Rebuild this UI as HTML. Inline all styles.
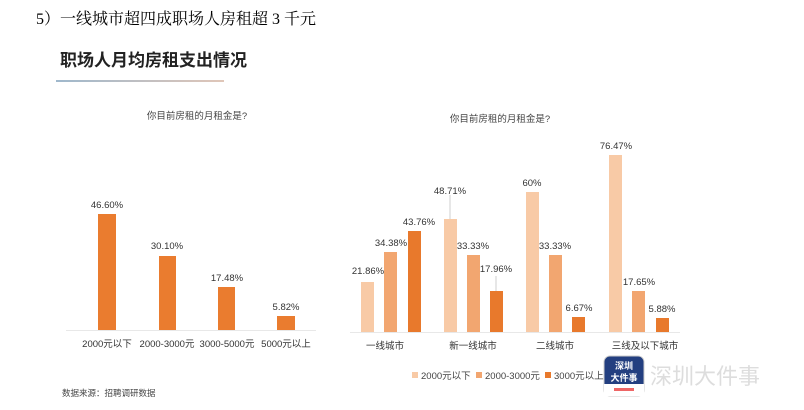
<!DOCTYPE html>
<html><head><meta charset="utf-8"><style>
body{margin:0;background:#fff;width:804px;height:410px;overflow:hidden}
svg{display:block}
text{font-family:"Liberation Sans","Noto Sans CJK SC",sans-serif}
</style></head><body>
<svg width="804" height="410" viewBox="0 0 804 410">
<defs><linearGradient id="g" x1="0" x2="1"><stop offset="0" stop-color="#9fb8cc"/><stop offset="1" stop-color="#e0c6b8"/></linearGradient></defs>
<text x="36" y="24" font-size="16" style="font-family:'Liberation Serif','Noto Serif CJK SC',serif" fill="#000">5）一线城市超四成职场人房租超 3 千元</text>
<text x="60" y="66" font-size="17" font-weight="bold" fill="#222">职场人月均房租支出情况</text>
<rect x="56" y="80" width="168" height="2" fill="url(#g)"/>
<text x="197" y="119" font-size="9.5" fill="#444" text-anchor="middle">你目前房租的月租金是?</text>
<text x="500" y="122" font-size="9.5" fill="#444" text-anchor="middle">你目前房租的月租金是?</text>
<line x1="66" y1="330.5" x2="316" y2="330.5" stroke="#e8e8e8"/>
<g fill="#ea7c2f">
<rect x="98" y="214" width="18" height="116"/>
<rect x="159" y="256" width="17" height="74"/>
<rect x="218" y="287" width="17" height="43"/>
<rect x="277" y="316" width="18" height="14"/>
</g>
<g font-size="9.5" fill="#333" text-anchor="middle">
<text x="107" y="208">46.60%</text><text x="167" y="249">30.10%</text><text x="227" y="281">17.48%</text><text x="286" y="310">5.82%</text>
<text x="107" y="347">2000元以下</text><text x="167" y="347">2000-3000元</text><text x="227" y="347">3000-5000元</text><text x="286" y="347">5000元以上</text>
</g>
<line x1="350" y1="332.5" x2="680" y2="332.5" stroke="#e8e8e8"/>
<g fill="#f8caa6">
<rect x="361" y="282" width="13" height="50"/><rect x="444" y="219" width="13" height="113"/><rect x="526" y="192" width="13" height="140"/><rect x="609" y="155" width="13" height="177"/>
</g>
<g fill="#f2a670">
<rect x="384" y="252" width="13" height="80"/><rect x="467" y="255" width="13" height="77"/><rect x="549" y="255" width="13" height="77"/><rect x="632" y="291" width="13" height="41"/>
</g>
<g fill="#e8792c">
<rect x="408" y="231" width="13" height="101"/><rect x="490" y="291" width="13" height="41"/><rect x="572" y="317" width="13" height="15"/><rect x="656" y="318" width="13" height="14"/>
</g>
<line x1="450" y1="195" x2="450" y2="219" stroke="#bbb" stroke-width="0.7"/>
<line x1="496" y1="276" x2="496" y2="291" stroke="#bbb" stroke-width="0.7"/>
<g font-size="9.5" fill="#333" text-anchor="middle">
<text x="368" y="274">21.86%</text><text x="391" y="246">34.38%</text><text x="419" y="225">43.76%</text>
<text x="450" y="194">48.71%</text><text x="473" y="249">33.33%</text><text x="496" y="272">17.96%</text>
<text x="532" y="186">60%</text><text x="555" y="249">33.33%</text><text x="579" y="311">6.67%</text>
<text x="616" y="149">76.47%</text><text x="639" y="285">17.65%</text><text x="662" y="312">5.88%</text>
<text x="385" y="349">一线城市</text><text x="473" y="349">新一线城市</text><text x="555" y="349">二线城市</text><text x="645" y="349">三线及以下城市</text>
</g>
<g font-size="9.5" fill="#444">
<rect x="412" y="372" width="6" height="6" fill="#f8caa6"/><text x="421" y="379">2000元以下</text>
<rect x="476" y="372" width="6" height="6" fill="#f2a670"/><text x="485" y="379">2000-3000元</text>
<rect x="545" y="372" width="6" height="6" fill="#e8792c"/><text x="554" y="379">3000元以上</text>
</g>
<text x="62" y="396" font-size="8.5" fill="#444">数据来源：招聘调研数据</text>
<rect x="604" y="356" width="40" height="40" rx="6" fill="#233f80" stroke="#ccc"/>
<rect x="604" y="384" width="40" height="12" fill="#fff"/>
<rect x="614" y="388" width="20" height="3" fill="#e66"/>
<text x="624" y="369" font-size="9" font-weight="bold" fill="#fff" text-anchor="middle">深圳</text>
<text x="624" y="381" font-size="9" font-weight="bold" fill="#fff" text-anchor="middle">大件事</text>
<text x="650" y="384" font-size="22" fill="#ddd">深圳大件事</text>
</svg>
</body></html>
